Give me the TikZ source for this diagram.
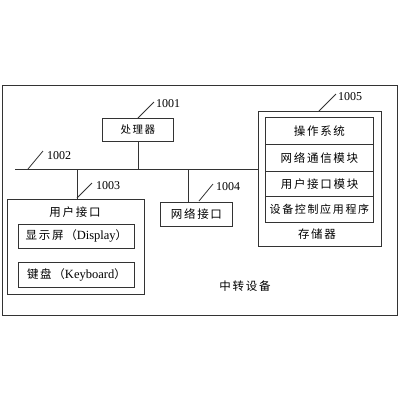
\documentclass[tikz,border=0pt]{standalone}
\usepackage{fontspec}
\setmainfont{Liberation Serif}
\newfontfamily\cjk{Noto Sans CJK SC}
\newfontfamily\cjks[LetterSpace=15]{Noto Sans CJK SC}
\begin{document}
\begin{tikzpicture}[x=1pt,y=-1pt,
  ln/.style={draw=black!80,line width=0.8pt},
  bx/.style={ln,rectangle,inner sep=0pt,anchor=north west},
  tx/.style={font=\cjk\fontsize{10.5}{12}\selectfont,inner sep=0pt},
  txs/.style={font=\cjks\fontsize{11.5}{13}\selectfont,inner sep=0pt},
  num/.style={font=\fontsize{12}{14}\selectfont,inner sep=0pt,anchor=west}]
\useasboundingbox[fill=white] (0,0) rectangle (400,400);
% outer frame
\node[bx,minimum width=395pt,minimum height=230pt] (frame) at (2,85) {};
% processor
\node[bx,minimum width=71pt,minimum height=23pt] (cpu) at (102,118) {};
\node[tx,font=\cjks\fontsize{10.5}{12}\selectfont] (cput) at (cpu.center) {处理器};
% bus
\coordinate (busL) at (15,169);
\coordinate (busR) at (258,169);
\draw[ln] (busL) -- (busR);
\coordinate (cpuB) at (138,169);
\draw[ln] (cpu.south -| cpuB) -- (cpuB);
% user interface box
\node[bx,minimum width=137pt,minimum height=95pt] (ui) at (7,199) {};
\node[txs] (uit) at (75,212) {用户接口};
\node[bx,minimum width=116pt,minimum height=24pt] (disp) at (18,224) {};
\node[inner sep=0pt] (dispt) at (disp.center) {{\cjks\fontsize{11.5}{13}\selectfont 显示屏（}\fontsize{12.5}{14}\selectfont Display{\cjk\fontsize{11.5}{13}\selectfont ）}};
\node[bx,minimum width=116pt,minimum height=25pt] (kb) at (18,262) {};
\node[inner sep=0pt] (kbt) at (kb.center) {{\cjks\fontsize{11.5}{13}\selectfont 键盘（}\fontsize{12.5}{14}\selectfont Keyboard{\cjk\fontsize{11.5}{13}\selectfont ）}};
\coordinate (uiB) at (77,169);
\draw[ln] (uiB) -- (uiB |- ui.north);
% network interface
\node[bx,minimum width=72pt,minimum height=24pt] (net) at (160,202) {};
\node[txs] (nett) at (net.center) {网络接口};
\coordinate (netB) at (188,169);
\draw[ln] (netB) -- (netB |- net.north);
% storage
\node[bx,minimum width=123pt,minimum height=135pt] (mem) at (258,111) {};
\node[bx,minimum width=108pt,minimum height=27pt] (os) at (265,117) {};
\node[txs] (ost) at (os.center) {操作系统};
\node[bx,minimum width=108pt,minimum height=27pt] (nc) at (265,144) {};
\node[txs] (nct) at (nc.center) {网络通信模块};
\node[bx,minimum width=108pt,minimum height=25pt,line width=1.2pt] (ui2) at (265,171) {};
\node[txs] (ui2t) at (ui2.center) {用户接口模块};
\node[bx,minimum width=108pt,minimum height=26pt] (app) at (265,196) {};
\node[txs,font=\cjks\fontsize{11}{13}\selectfont] (appt) at (app.center) {设备控制应用程序};
\node[txs] (memt) at (317,234) {存储器};
% device label
\node[txs] (dev) at (245,286) {中转设备};
% leaders and numbers
\coordinate (l1a) at (138,118); \coordinate (l1b) at (154,102);
\draw[ln] (l1a) -- (l1b);
\node[num] (n1) at (156,104) {1001};
\coordinate (l2a) at (28,169); \coordinate (l2b) at (43,151);
\draw[ln] (l2a) -- (l2b);
\node[num] (n2) at (47,156) {1002};
\coordinate (l3a) at (77,198); \coordinate (l3b) at (92,183);
\draw[ln] (l3a) -- (l3b);
\node[num] (n3) at (96,186) {1003};
\coordinate (l4a) at (199,201); \coordinate (l4b) at (213,184);
\draw[ln] (l4a) -- (l4b);
\node[num] (n4) at (216,187) {1004};
\coordinate (l5a) at (319,111); \coordinate (l5b) at (336,94);
\draw[ln] (l5a) -- (l5b);
\node[num] (n5) at (338,97) {1005};
\end{tikzpicture}
\end{document}
